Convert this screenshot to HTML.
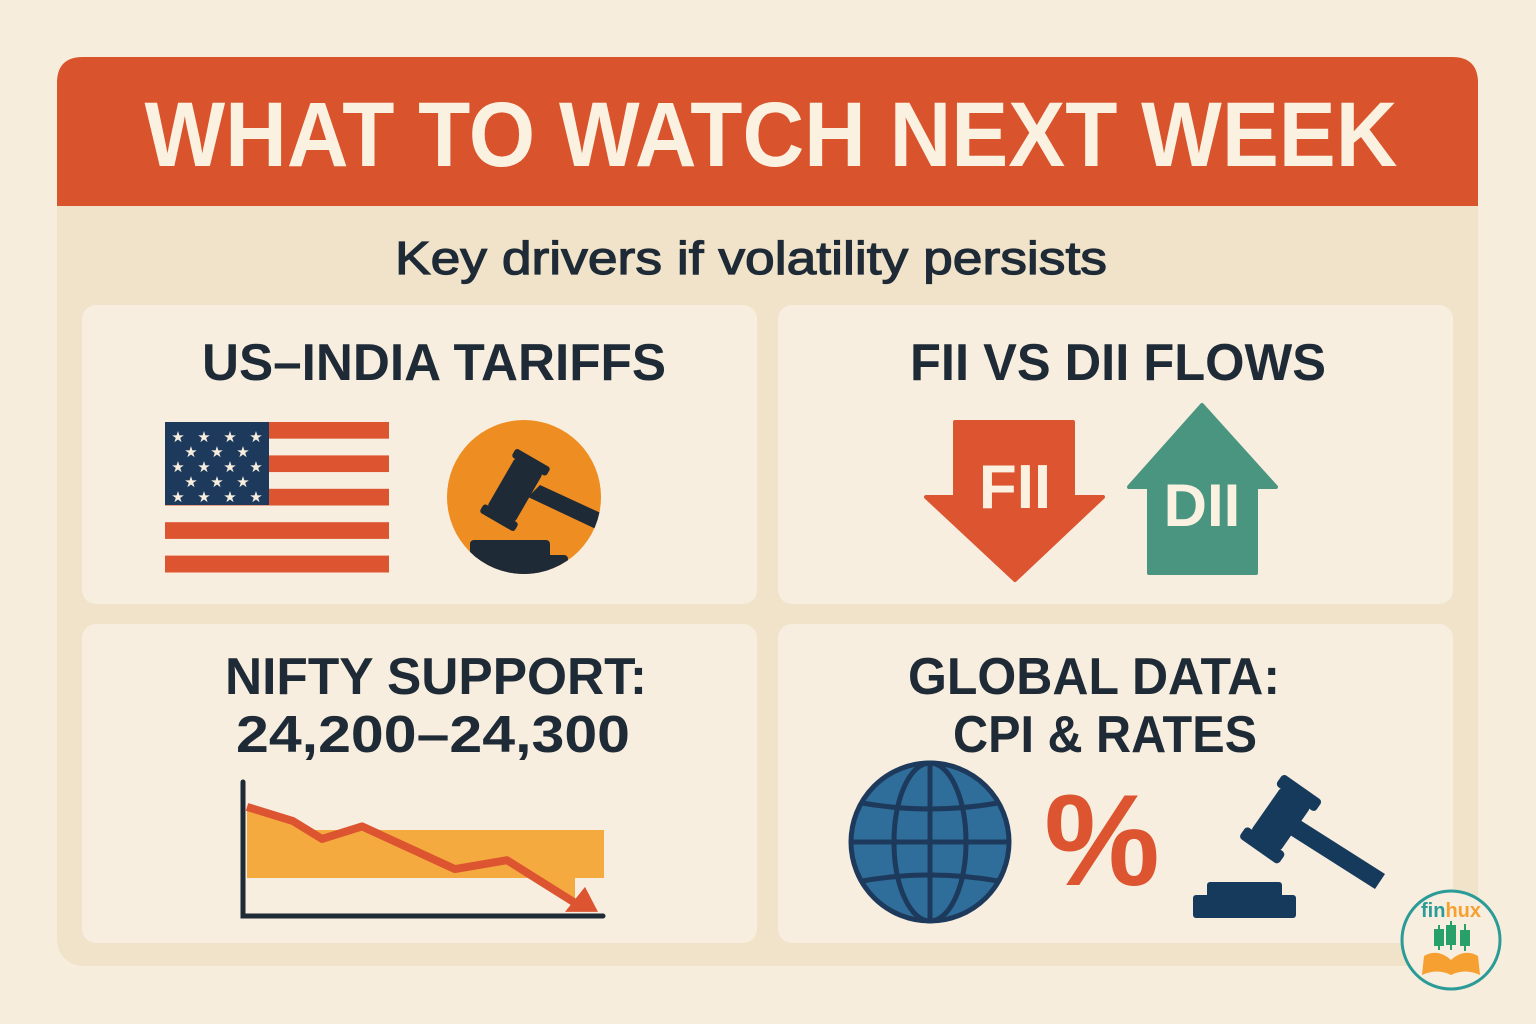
<!DOCTYPE html>
<html><head><meta charset="utf-8"><style>
html,body{margin:0;padding:0;background:#f7eddd;}
svg{display:block;font-family:"Liberation Sans",sans-serif;}
</style></head><body>
<svg width="1536" height="1024" viewBox="0 0 1536 1024">
<rect x="0" y="0" width="1536" height="1024" fill="#f7eddd"/>
<rect x="57" y="57" width="1421" height="909" rx="26" fill="#f0e3ca"/>
<path d="M57 206 V83 Q57 57 83 57 H1452 Q1478 57 1478 83 V206 Z" fill="#d9532c"/>
<text x="771" y="166" text-anchor="middle" font-size="92" font-weight="bold" fill="#fbf1e1" textLength="1253" lengthAdjust="spacingAndGlyphs">WHAT TO WATCH NEXT WEEK</text>
<text x="751" y="274" text-anchor="middle" font-size="46" fill="#1e2a36" stroke="#1e2a36" stroke-width="1.2" textLength="712" lengthAdjust="spacingAndGlyphs">Key drivers if volatility persists</text>

<rect x="82" y="305" width="675" height="299" rx="14" fill="#f8eedf"/>
<rect x="778" y="305" width="675" height="299" rx="14" fill="#f8eedf"/>
<rect x="82" y="624" width="675" height="319" rx="14" fill="#f8eedf"/>
<rect x="778" y="624" width="675" height="319" rx="14" fill="#f8eedf"/>

<text x="434" y="380" text-anchor="middle" font-size="52" font-weight="bold" fill="#1e2a36" textLength="464" lengthAdjust="spacingAndGlyphs">US–INDIA TARIFFS</text>
<text x="1118" y="380" text-anchor="middle" font-size="52" font-weight="bold" fill="#1e2a36" textLength="416" lengthAdjust="spacingAndGlyphs">FII VS DII FLOWS</text>
<text x="436" y="694" text-anchor="middle" font-size="52" font-weight="bold" fill="#1e2a36" textLength="422" lengthAdjust="spacingAndGlyphs">NIFTY SUPPORT:</text>
<text x="433" y="752" text-anchor="middle" font-size="52" font-weight="bold" fill="#1e2a36" textLength="394" lengthAdjust="spacingAndGlyphs">24,200–24,300</text>
<text x="1094" y="694" text-anchor="middle" font-size="52" font-weight="bold" fill="#1e2a36" textLength="372" lengthAdjust="spacingAndGlyphs">GLOBAL DATA:</text>
<text x="1105" y="752" text-anchor="middle" font-size="52" font-weight="bold" fill="#1e2a36" textLength="304" lengthAdjust="spacingAndGlyphs">CPI &amp; RATES</text>

<g id="flag"></g>

<g>
<circle cx="524" cy="497" r="77" fill="#ee8d22"/>
<clipPath id="gc"><circle cx="524" cy="497" r="77"/></clipPath>
<g clip-path="url(#gc)" fill="#1e2a36">
<rect x="470" y="540" width="80" height="40" rx="4"/>
<rect x="458" y="555" width="110" height="30" rx="4"/>
<g transform="rotate(-60 515 490)"><rect x="487" y="474" width="56" height="32" rx="3"/><rect x="478" y="470" width="10" height="40" rx="3"/><rect x="542" y="470" width="10" height="40" rx="3"/></g>
<polygon points="528,497 540,485 605,515 598,530"/>
</g>
</g>

<g>
<polygon points="955,422 1073,422 1073,497 1103,497 1015,580 926,497 955,497" fill="#dc5430" stroke="#dc5430" stroke-linejoin="round" stroke-width="4"/>
<text x="1015" y="508" text-anchor="middle" font-size="62" font-weight="bold" fill="#fbf1e1">FII</text>
</g>
<g>
<polygon points="1202,405 1276,487 1256,487 1256,573 1149,573 1149,487 1129,487" fill="#4a9580" stroke="#4a9580" stroke-linejoin="round" stroke-width="4"/>
<text x="1202" y="526" text-anchor="middle" font-size="60" font-weight="bold" fill="#fbf1e1">DII</text>
</g>

<g id="chart">
<rect x="247" y="830" width="357" height="48" fill="#f5aa40"/>
<path id="area" fill="#f5aa40"/>
<path id="line" fill="none" stroke="#dc5430" stroke-width="8" stroke-linejoin="round"/>
<polygon id="arrowhead" fill="#dc5430"/>
<path d="M243 782 V916 H603" fill="none" stroke="#1e2a36" stroke-width="5" stroke-linecap="round"/>
</g>

<g>
<circle cx="930" cy="842" r="79" fill="#2f6d9a" stroke="#1d3a5c" stroke-width="5"/>
<g fill="none" stroke="#1d3a5c" stroke-width="5">
<ellipse cx="930" cy="842" rx="36" ry="79"/>
<line x1="930" y1="763" x2="930" y2="921"/>
<line x1="851" y1="842" x2="1009" y2="842"/>
<path d="M862 803 Q930 815 998 803"/>
<path d="M862 881 Q930 869 998 881"/>
</g>
</g>
<text x="1102" y="885" text-anchor="middle" font-size="130" font-weight="bold" fill="#dc5430">%</text>
<g fill="#163a5c">
<rect x="1193" y="895" width="103" height="23" rx="3"/>
<rect x="1207" y="882" width="75" height="18" rx="3"/>
<g transform="rotate(-55 1280 820)"><rect x="1255" y="802" width="52" height="36" rx="3"/><rect x="1242" y="796" width="14" height="48" rx="4"/><rect x="1306" y="796" width="14" height="48" rx="4"/></g>
<polygon points="1290,835 1300,820 1385,874 1375,889"/>
</g>

<g>
<circle cx="1451" cy="940" r="49" fill="#f8eedf" stroke="#2a9b96" stroke-width="3"/>
<text x="1451" y="917" text-anchor="middle" font-size="20" font-weight="bold" fill="#2a9b96">fin<tspan fill="#f5a030">hux</tspan></text>
<g fill="#27a06a" stroke="#27a06a" stroke-width="2">
<line x1="1439" y1="925" x2="1439" y2="950"/><rect x="1435" y="930" width="8" height="15"/>
<line x1="1451" y1="921" x2="1451" y2="950"/><rect x="1447" y="926" width="8" height="18"/>
<line x1="1465" y1="924" x2="1465" y2="951"/><rect x="1461" y="931" width="8" height="14"/>
</g>
<path d="M1424 956 Q1438 948 1451 960 Q1464 948 1478 956 L1480 975 Q1465 968 1451 975 Q1437 968 1422 975 Z" fill="#f5a030"/>
</g>
</svg>
<script>
// Nifty chart data (relative index levels)
var points = [0, 1, 2, 3, 4, 5, 6];
var levels = [98, 94, 89, 92.5, 80.5, 83, 71];
var bandLow = 78, bandHigh = 91.5;
var xPos = [247, 293, 322, 362, 455, 507, 575];
function xScale(i){ return xPos[i]; }
function yScale(v){ return 878 - (v - bandLow) * (878 - 830) / (bandHigh - bandLow); }
var lp = levels.map(function(v,i){ return [xScale(points[i]), yScale(v)]; });
var d = lp.map(function(p,i){ return (i?'L':'M')+p[0].toFixed(1)+' '+p[1].toFixed(1); }).join(' ');
document.getElementById('line').setAttribute('d', d);
var a = d + ' L' + lp[lp.length-1][0] + ' 878 L247 878 Z';
document.getElementById('area').setAttribute('d', a);
var last = lp[lp.length-1];
document.getElementById('arrowhead').setAttribute('points',
  (last[0]+23)+','+(last[1]+9)+' '+(last[0]-10)+','+(last[1]+9)+' '+(last[0]+10)+','+(last[1]-16));
// flag
var flag = document.getElementById('flag');
var ns = 'http://www.w3.org/2000/svg';
for (var s = 0; s < 9; s++) {
  var r = document.createElementNS(ns, 'rect');
  r.setAttribute('x', 165); r.setAttribute('y', 422 + s*16.7);
  r.setAttribute('width', 224); r.setAttribute('height', 16.9);
  r.setAttribute('fill', s % 2 === 0 ? '#dc5430' : '#f8eedf');
  
  
  flag.appendChild(r);
}
var c = document.createElementNS(ns, 'rect');
c.setAttribute('x', 165); c.setAttribute('y', 422); c.setAttribute('width', 104); c.setAttribute('height', 83);
c.setAttribute('fill', '#1d3a5c');


flag.appendChild(c);
for (var row = 0; row < 5; row++) {
  var n = row % 2 === 0 ? 4 : 3;
  for (var k = 0; k < n; k++) {
    var t = document.createElementNS(ns, 'text');
    t.setAttribute('x', 178 + k*26 + (row%2 ? 13 : 0));
    t.setAttribute('y', 442 + row*15);
    t.setAttribute('font-size', '15'); t.setAttribute('fill', '#f8eedf');
    t.setAttribute('text-anchor', 'middle');
    t.textContent = '★';
    
    
    flag.appendChild(t);
  }
}
</script>
</body></html>
